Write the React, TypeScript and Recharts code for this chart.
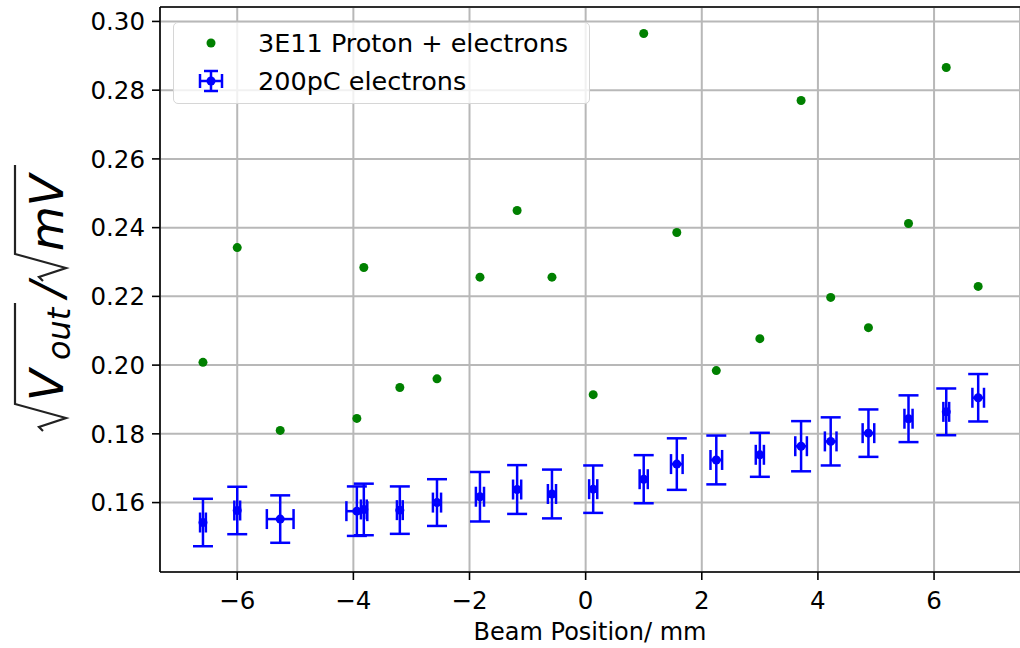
import React from 'react';
import { ScatterChart, Scatter, XAxis, YAxis, CartesianGrid, ErrorBar, ReferenceLine } from 'recharts';

// beam positions (mm), shared by both runs
const beamPos = [-6.59, -6.0, -5.26, -3.94, -3.82, -3.2, -2.56, -1.82, -1.18, -0.58, 0.13, 1.0, 1.57, 2.25, 3.0, 3.71, 4.22, 4.87, 5.56, 6.21, 6.76];
const posErr = [0.05, 0.05, 0.23, 0.18, 0.05, 0.05, 0.07, 0.07, 0.07, 0.07, 0.07, 0.07, 0.1, 0.1, 0.07, 0.1, 0.1, 0.1, 0.07, 0.05, 0.1];

// 3E11 Proton + electrons
const protonSignal = [0.2008, 0.2342, 0.181, 0.1845, 0.2284, 0.1935, 0.196, 0.2256, 0.245, 0.2256, 0.1914, 0.2965, 0.2386, 0.1984, 0.2077, 0.277, 0.2197, 0.2109, 0.2412, 0.2866, 0.2229];

// 200pC electrons
const electronSignal = [0.1542, 0.1577, 0.1552, 0.1575, 0.158, 0.1578, 0.16, 0.1617, 0.1638, 0.1625, 0.1639, 0.1668, 0.1712, 0.1724, 0.1739, 0.1764, 0.1778, 0.1802, 0.1844, 0.1864, 0.1905];
const electronErr = [0.0069, 0.0069, 0.0069, 0.0072, 0.0075, 0.0069, 0.0068, 0.0072, 0.0071, 0.0071, 0.0069, 0.007, 0.0075, 0.0071, 0.0064, 0.0073, 0.007, 0.0069, 0.0068, 0.0068, 0.0069];

const xTicks = [-6, -4, -2, 0, 2, 4, 6];
const yTicks = [0.16, 0.18, 0.2, 0.22, 0.24, 0.26, 0.28, 0.3];
const xDomain = [-7.33, 7.48];
const yDomain = [0.1398, 0.3042];

const protonData = beamPos.map((x, i) => ({ x, y: protonSignal[i] }));
const electronData = beamPos.map((x, i) => ({ x, y: electronSignal[i], yErr: electronErr[i], xErr: posErr[i] }));

const FONT = 'DejaVu Sans';
const GREEN = '#008000';
const BLUE = '#0000ff';

const GreenDot = (p: any) => <circle cx={p.cx} cy={p.cy} r={4.5} fill={GREEN} />;
const BlueDot = (p: any) => <circle cx={p.cx} cy={p.cy} r={4.5} fill={BLUE} />;

const fmtX = (v: number) => String(v).replace('-', '\u2212');
const fmtY = (v: number) => v.toFixed(2);

const YLabel = () => (
  <svg width={110} height={648} style={{ position: 'absolute', left: 0, top: 0 }}>
    <g transform="translate(63,431) rotate(-90)" fontFamily={FONT} fill="#000">
      <path d="M0,-20 L4,-24 L13,3 L27,-48 L128,-48" stroke="#222" strokeWidth={2.2} fill="none" />
      <text x={30} y={0} fontSize={46} fontStyle="italic">V</text>
      <text x={71} y={7} fontSize={32} fontStyle="italic">out</text>
      <text x={134} y={0} fontSize={46} fontStyle="italic">/</text>
      <path d="M150,-20 L154,-24 L163,3 L177,-48 L266,-48" stroke="#222" strokeWidth={2.2} fill="none" />
      <text x={180} y={0} fontSize={46} fontStyle="italic">mV</text>
    </g>
  </svg>
);

const LegendBox = () => (
  <div
    style={{
      position: 'absolute', left: 173, top: 22, width: 417, height: 82, boxSizing: 'border-box',
      border: '1.5px solid #d6d6d6', borderRadius: 5, background: 'rgba(255,255,255,0.8)',
      fontFamily: FONT, fontSize: 25.5, color: '#000',
    }}
  >
    <svg width={80} height={82} style={{ position: 'absolute', left: 0, top: 0 }}>
      <circle cx={37} cy={20} r={4.5} fill={GREEN} />
      <g stroke={BLUE} strokeWidth={2.5}>
        <line x1={37} y1={48} x2={37} y2={68} />
        <line x1={30} y1={48} x2={44} y2={48} />
        <line x1={30} y1={68} x2={44} y2={68} />
        <line x1={26} y1={58} x2={48} y2={58} />
        <line x1={26} y1={51} x2={26} y2={65} />
        <line x1={48} y1={51} x2={48} y2={65} />
      </g>
      <circle cx={37} cy={58} r={4.5} fill={BLUE} />
    </svg>
    <div style={{ position: 'absolute', left: 84, top: 5, lineHeight: '30px' }}>3E11 Proton + electrons</div>
    <div style={{ position: 'absolute', left: 84, top: 43, lineHeight: '30px' }}>200pC electrons</div>
  </div>
);

export default function App() {
  return (
    <div style={{ position: 'absolute', left: 0, top: 0, width: 1020, height: 648, background: '#fff', overflow: 'hidden' }}>
      <ScatterChart width={1020} height={648} margin={{ top: 7, right: 0, bottom: 0, left: 80 }}>
        <CartesianGrid stroke="#b8b8b8" strokeWidth={2} />
        <XAxis
          type="number"
          dataKey="x"
          domain={xDomain}
          ticks={xTicks}
          tickFormatter={fmtX}
          allowDataOverflow
          height={76}
          tickSize={8}
          tickMargin={12}
          axisLine={{ stroke: '#000', strokeWidth: 1.6 }}
          tickLine={{ stroke: '#000', strokeWidth: 1.6 }}
          tick={{ fill: '#000', fontSize: 24.5, fontFamily: FONT }}
          label={{ value: 'Beam Position/ mm', position: 'insideBottom', offset: 8, fill: '#000', fontSize: 24, fontFamily: FONT }}
        />
        <YAxis
          type="number"
          dataKey="y"
          domain={yDomain}
          ticks={yTicks}
          tickFormatter={fmtY}
          allowDataOverflow
          width={80}
          tickSize={8}
          tickMargin={7}
          axisLine={{ stroke: '#000', strokeWidth: 1.6 }}
          tickLine={{ stroke: '#000', strokeWidth: 1.6 }}
          tick={{ fill: '#000', fontSize: 24.5, fontFamily: FONT }}
        />
        <ReferenceLine y={yDomain[1]} stroke="#000" strokeWidth={1.6} />
        <Scatter data={protonData} shape={GreenDot} isAnimationActive={false} />
        <Scatter data={electronData} shape={BlueDot} isAnimationActive={false}>
          <ErrorBar dataKey="yErr" direction="y" width={10} stroke={BLUE} strokeWidth={2.5} isAnimationActive={false} />
          <ErrorBar dataKey="xErr" direction="x" width={10} stroke={BLUE} strokeWidth={2.5} isAnimationActive={false} />
        </Scatter>
      </ScatterChart>
      <YLabel />
      <LegendBox />
    </div>
  );
}
